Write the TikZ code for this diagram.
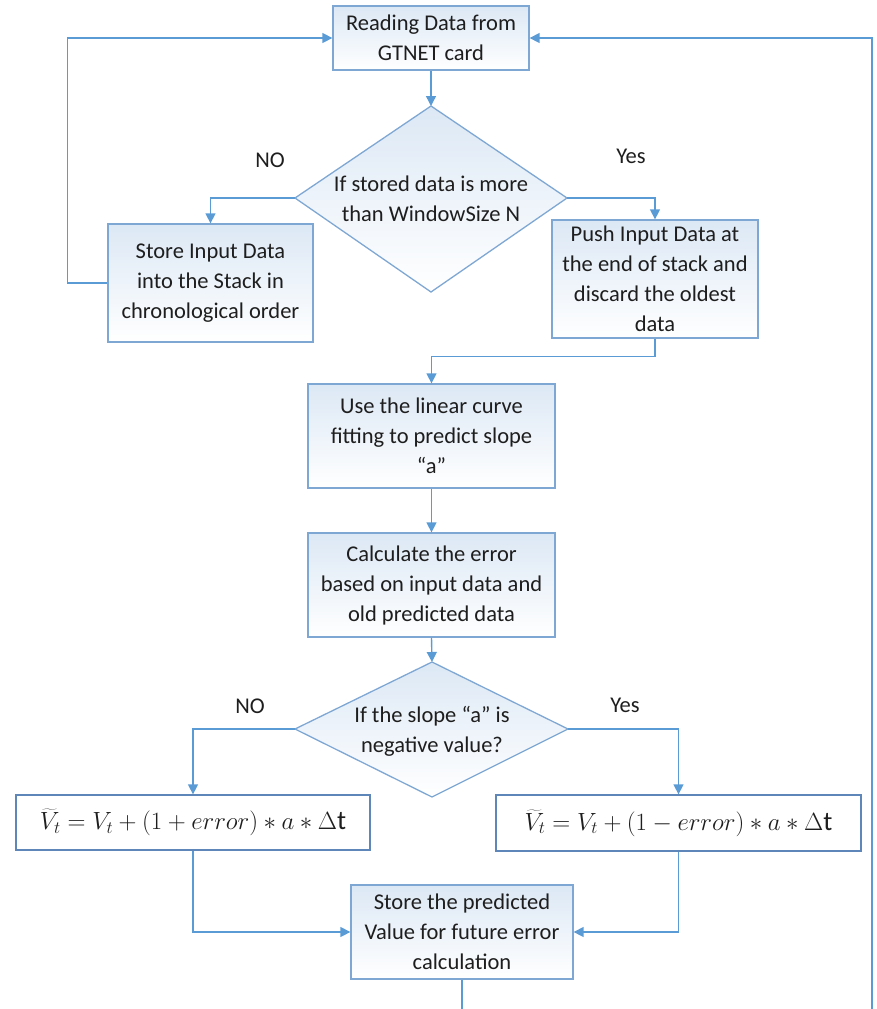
\documentclass[tikz,border=0pt]{standalone}
\usepackage{fontspec}
\setmainfont{Carlito}
\usetikzlibrary{arrows.meta}
\definecolor{linec}{HTML}{5B9BD5}
\definecolor{boxb}{HTML}{7FA7D3}
\definecolor{eqb}{HTML}{5F86B8}
\definecolor{fillb}{HTML}{DCE8F5}
\definecolor{txt}{HTML}{1E1E1E}
\tikzset{
  flow/.style={draw=boxb, line width=1.3pt, top color=fillb, bottom color=white,
    align=center, inner sep=2pt, text=txt, font=\fontsize{22.5}{30}\selectfont},
  eqbox/.style={draw=eqb, line width=1.3pt, fill=white, inner sep=2pt,
    text=txt, font=\fontsize{27}{30}\selectfont},
  decide/.style={draw=boxb, line width=1.3pt, top color=fillb, bottom color=white},
  dtext/.style={align=center, text=txt, font=\fontsize{22.5}{30}\selectfont},
  lbl/.style={text=txt, font=\fontsize{22.5}{26}\selectfont},
  arr/.style={draw=linec, line width=1.4pt, -{Triangle[length=10pt,width=10pt]}},
  wire/.style={draw=linec, line width=1.4pt}
}
\begin{document}
\begin{tikzpicture}[x=1pt, y=-1pt]
\useasboundingbox (0,0) rectangle (877,1009);
\clip (0,0) rectangle (877,1009);

% process boxes
\node[flow, minimum width=196pt, minimum height=64pt] (read) at (431,38)
  {Reading Data from\\GTNET card};
\node[flow, minimum width=205pt, minimum height=118pt] (stack) at (210.5,283)
  {Store Input Data\\into the Stack in\\chronological order};
\node[flow, minimum width=206pt, minimum height=118pt] (push) at (655,279)
  {Push Input Data at\\the end of stack and\\discard the oldest\\data};
\node[flow, minimum width=247pt, minimum height=104pt] (fit) at (431.5,436)
  {Use the linear curve\\fitting to predict slope\\“a”};
\node[flow, minimum width=247pt, minimum height=104pt] (err) at (431.5,585)
  {Calculate the error\\based on input data and\\old predicted data};
\node[eqbox, minimum width=354pt, minimum height=55pt] (eql) at (193,822.5)
  {$\widetilde{V}_t = V_t + (1 + error) * a * \Delta\mathrm{t}$};
\node[eqbox, minimum width=365pt, minimum height=56pt] (eqr) at (678.5,823)
  {$\widetilde{V}_t = V_t + (1 - error) * a * \Delta\mathrm{t}$};
\node[flow, minimum width=222pt, minimum height=94pt] (save) at (462,932)
  {Store the predicted\\Value for future error\\calculation};

% decision diamonds
\coordinate (d1t) at (431,106);
\coordinate (d1l) at (295,198);
\coordinate (d1r) at (567,198);
\coordinate (d1b) at (431,292);
\path[decide] (d1t) -- (d1r) -- (d1b) -- (d1l) -- cycle;
\node[dtext] (q1) at (431,199) {If stored data is more\\than WindowSize N};

\coordinate (d2t) at (432,662);
\coordinate (d2l) at (295,729);
\coordinate (d2r) at (568,729);
\coordinate (d2b) at (432,797);
\path[decide] (d2t) -- (d2r) -- (d2b) -- (d2l) -- cycle;
\node[dtext] (q2) at (432,731) {If the slope “a” is\\negative value?};

% branch labels
\node[lbl] (no1) at (270,160) {NO};
\node[lbl] (yes1) at (631,156) {Yes};
\node[lbl] (no2) at (250,706) {NO};
\node[lbl] (yes2) at (625,705) {Yes};

% connectors
\draw[arr] (read.south) -- (d1t);
\draw[arr] (d1l) -| (stack.north);
\draw[arr] (d1r) -| (push.north);
\draw[arr] (stack.west) -- ++(-40,0) |- (read.west);
\draw[arr] (push.south) -- ++(0,18) -| (fit.north);
\draw[arr] (fit.south) -- (err.north);
\draw[arr] (err.south) -- (d2t);
\draw[arr] (d2l) -| (eql.north);
\draw[arr] (d2r) -| (eqr.north);
\draw[arr] (eql.south) |- (save.west);
\draw[arr] (eqr.south) |- (save.east);
\coordinate (rail) at (872,38);
\draw[arr] (save.south) -- ++(0,60) -| (rail) -- (read.east);
\end{tikzpicture}
\end{document}
